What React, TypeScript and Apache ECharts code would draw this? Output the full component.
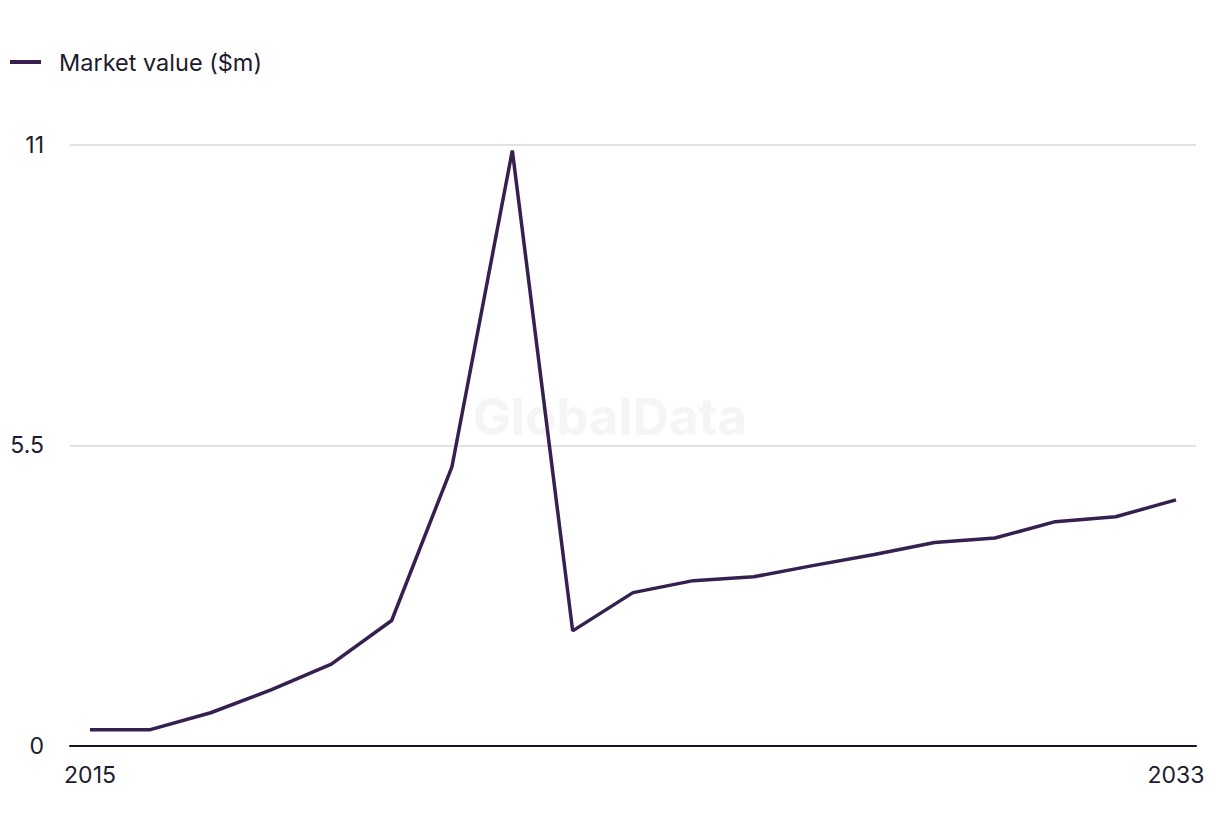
import React, { useEffect, useRef } from "react";
import * as echarts from "echarts";

const years = [2015, 2016, 2017, 2018, 2019, 2020, 2021, 2022, 2023, 2024, 2025, 2026, 2027, 2028, 2029, 2030, 2031, 2032, 2033];
const marketValue = [0.29, 0.29, 0.6, 1.02, 1.49, 2.29, 5.11, 10.9, 2.1, 2.8, 3.02, 3.09, 3.3, 3.5, 3.72, 3.8, 4.1, 4.19, 4.5];
const xTickLabels = [2015, 2033];
const yTicks = [0, 5.5, 11];
const seriesName = "Market value ($m)";

export default function App() {
  const ref = useRef<HTMLDivElement>(null);
  useEffect(() => {
    document.body.style.margin = "0";
    const chart = echarts.init(ref.current!, null, { renderer: "svg" });
    const font = "Inter, 'Noto Sans', sans-serif";
    chart.setOption({
      animation: false,
      backgroundColor: "#ffffff",
      textStyle: { fontFamily: font },
      legend: {
        left: 5,
        top: 45,
        itemWidth: 31,
        itemHeight: 4,
        itemGap: 20,
        icon: "rect",
        textStyle: { fontSize: 23.5, color: "#1c1b2e", fontFamily: font, padding: [0, 0, 0, 13] },
        data: [seriesName],
      },
      graphic: [
        {
          type: "text",
          left: "center",
          top: 391,
          z: 0,
          style: { text: "GlobalData", fontSize: 51, fontWeight: "bold", fill: "#f5f5f7", fontFamily: font },
        },
      ],
      grid: { left: 70, right: 24, top: 145, bottom: 90.5 },
      xAxis: {
        type: "value",
        min: 2015 - 0.332,
        max: 2033 + 0.332,
        splitLine: { show: false },
        axisTick: { show: false },
        axisLine: { show: true, lineStyle: { color: "#15142a", width: 2 } },
        axisLabel: {
          customValues: xTickLabels,
          fontSize: 23,
          color: "#1c1b2e",
          margin: 18,
          fontFamily: font,
          formatter: (v: number) => String(v),
        },
      },
      yAxis: {
        type: "value",
        min: 0,
        max: 11,
        interval: 5.5,
        axisLine: { show: false },
        axisTick: { show: false },
        splitLine: { lineStyle: { color: "#d9d9dc", width: 1.5 } },
        axisLabel: {
          customValues: yTicks,
          fontSize: 23,
          color: "#1c1b2e",
          margin: 26,
          fontFamily: font,
        },
      },
      series: [
        {
          name: seriesName,
          type: "line",
          data: years.map((y, i) => [y, marketValue[i]]),
          symbol: "none",
          lineStyle: { color: "#35204f", width: 3.5 },
          itemStyle: { color: "#35204f" },
          z: 3,
        },
      ],
    });
    return () => chart.dispose();
  }, []);
  return <div ref={ref} style={{ width: 1220, height: 836 }} />;
}
